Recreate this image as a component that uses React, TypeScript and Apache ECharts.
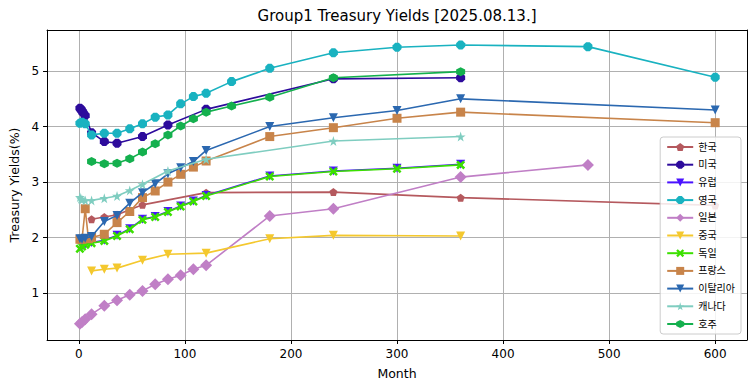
import React, { useEffect, useRef } from 'react';
import * as echarts from 'echarts';

// ---------- data (months, yields %) ----------
const seriesNames = ['한국', '미국', '유럽', '영국', '일본', '중국', '독일', '프랑스', '이탈리아', '캐나다', '호주'];

const krMonths = [12, 24, 36, 60, 120, 240, 360, 600];
const krYields = [2.33, 2.37, 2.41, 2.59, 2.81, 2.82, 2.72, 2.58];

const usMonths = [1, 2, 3, 4, 6, 12, 24, 36, 60, 84, 120, 240, 360];
const usYields = [4.33, 4.31, 4.28, 4.25, 4.20, 3.89, 3.73, 3.70, 3.82, 4.03, 4.31, 4.86, 4.88];

const euMonths = [3, 6, 12, 24, 36, 48, 60, 72, 84, 96, 108, 120, 180, 240, 300, 360];
const euYields = [1.85, 1.88, 1.91, 1.95, 2.04, 2.16, 2.33, 2.38, 2.47, 2.57, 2.66, 2.76, 3.11, 3.20, 3.25, 3.32];

const ukMonths = [1, 3, 6, 12, 24, 36, 48, 60, 72, 84, 96, 108, 120, 144, 180, 240, 300, 360, 480, 600];
const ukYields = [4.06, 4.08, 4.05, 3.85, 3.88, 3.88, 3.96, 4.05, 4.17, 4.21, 4.41, 4.54, 4.60, 4.81, 5.05, 5.33, 5.43, 5.47, 5.44, 4.89];

const jpMonths = [1, 3, 6, 12, 24, 36, 48, 60, 72, 84, 96, 108, 120, 180, 240, 360, 480];
const jpYields = [0.45, 0.48, 0.53, 0.62, 0.77, 0.87, 0.97, 1.04, 1.16, 1.25, 1.32, 1.43, 1.50, 2.39, 2.52, 3.09, 3.31];

const cnMonths = [12, 24, 36, 60, 84, 120, 180, 240, 360];
const cnYields = [1.40, 1.43, 1.45, 1.59, 1.70, 1.72, 1.98, 2.04, 2.03];

const deMonths = [1, 3, 6, 12, 24, 36, 48, 60, 72, 84, 96, 108, 120, 180, 240, 300, 360];
const deYields = [1.80, 1.84, 1.87, 1.90, 1.94, 2.03, 2.15, 2.32, 2.37, 2.46, 2.56, 2.65, 2.75, 3.10, 3.19, 3.24, 3.31];

const frMonths = [1, 3, 6, 9, 12, 24, 36, 48, 60, 72, 84, 96, 108, 120, 180, 240, 300, 360, 600];
const frYields = [1.97, 1.97, 2.52, 1.98, 2.00, 2.06, 2.27, 2.47, 2.72, 2.84, 3.00, 3.14, 3.27, 3.38, 3.82, 3.98, 4.15, 4.26, 4.07];

const itMonths = [1, 3, 6, 12, 24, 36, 48, 60, 72, 84, 96, 108, 120, 180, 240, 300, 360, 600];
const itYields = [1.98, 1.97, 1.99, 2.02, 2.29, 2.40, 2.62, 2.81, 2.97, 3.15, 3.26, 3.37, 3.57, 4.00, 4.16, 4.29, 4.50, 4.30];

const caMonths = [1, 2, 3, 6, 12, 24, 36, 48, 60, 84, 120, 240, 360];
const caYields = [2.73, 2.70, 2.68, 2.67, 2.67, 2.71, 2.75, 2.85, 2.96, 3.20, 3.41, 3.74, 3.82];

const auMonths = [12, 24, 36, 48, 60, 72, 84, 96, 108, 120, 144, 180, 240, 360];
const auYields = [3.37, 3.33, 3.34, 3.42, 3.54, 3.69, 3.85, 4.01, 4.14, 4.26, 4.37, 4.53, 4.88, 4.99];

const xTicks = [0, 100, 200, 300, 400, 500, 600];
const yTicks = [1, 2, 3, 4, 5];

const titleText = 'Group1 Treasury Yields [2025.08.13.]';
const xName = 'Month';
const yName = 'Treasury Yields(%)';

// ---------- marker shapes ----------
const PENTAGON = 'path://M50,0 L100,38 L81,100 L19,100 L0,38 Z';
const TRI_DOWN = 'path://M0,0 L100,0 L50,87 Z';
const HEXAGON = 'path://M50,0 L93,25 L93,75 L50,100 L7,75 L7,25 Z';
const OCTAGON = 'path://M30,0 L70,0 L100,30 L100,70 L70,100 L30,100 L0,70 L0,30 Z';
const XFILLED = 'path://M0,20 L20,0 L50,30 L80,0 L100,20 L70,50 L100,80 L80,100 L50,70 L20,100 L0,80 L30,50 Z';
const STAR = 'path://M50,0 L61,35 L98,35 L68,57 L79,91 L50,70 L21,91 L32,57 L2,35 L39,35 Z';

const FONT = "'DejaVu Sans', 'Noto Sans CJK KR', sans-serif";

export default function App() {
  const ref = useRef<HTMLDivElement>(null);

  useEffect(() => {
    if (!ref.current) return;
    const chart = echarts.init(ref.current, null, { renderer: 'svg' });

    const defs = [
      { m: krMonths, v: krYields, color: '#b5595e', symbol: PENTAGON, size: 8 },
      { m: usMonths, v: usYields, color: '#2d0b9c', symbol: OCTAGON, size: 9 },
      { m: euMonths, v: euYields, color: '#4a12ff', symbol: TRI_DOWN, size: 9 },
      { m: ukMonths, v: ukYields, color: '#19b2c0', symbol: OCTAGON, size: 9 },
      { m: jpMonths, v: jpYields, color: '#c07fc6', symbol: 'diamond', size: 12 },
      { m: cnMonths, v: cnYields, color: '#f4c82e', symbol: TRI_DOWN, size: 9 },
      { m: deMonths, v: deYields, color: '#3ce000', symbol: XFILLED, size: 9 },
      { m: frMonths, v: frYields, color: '#c8844a', symbol: 'rect', size: 9 },
      { m: itMonths, v: itYields, color: '#2b68b0', symbol: TRI_DOWN, size: 9 },
      { m: caMonths, v: caYields, color: '#7fcdc0', symbol: STAR, size: 10 },
      { m: auMonths, v: auYields, color: '#14b04e', symbol: HEXAGON, size: 9 },
    ];

    const series = defs.map((d, i) => ({
      name: seriesNames[i],
      type: 'line',
      xAxisIndex: 0,
      yAxisIndex: 0,
      data: d.m.map((mm, k) => [mm, d.v[k]]),
      symbol: d.symbol,
      symbolSize: d.size,
      showSymbol: true,
      showAllSymbol: true,
      itemStyle: { color: d.color, borderWidth: 0 },
      lineStyle: { color: d.color, width: 1.6 },
      emphasis: { disabled: true },
      z: 2 + i * 0.01,
    }));

    const tickLabelStyle = { fontSize: 12, color: '#000', fontFamily: FONT };

    chart.setOption({
      animation: false,
      backgroundColor: '#ffffff',
      textStyle: { fontFamily: FONT },
      grid: { left: 47, right: 8, top: 30, bottom: 51, containLabel: false },
      graphic: [
        {
          type: 'text',
          x: 397,
          y: 16,
          style: {
            text: titleText,
            fontSize: 15,
            fontFamily: FONT,
            fill: '#000',
            textAlign: 'center',
            textVerticalAlign: 'middle',
          },
          z: 100,
        },
      ],
      xAxis: [
        {
          type: 'value',
          min: -30,
          max: 630,
          position: 'bottom',
          axisLine: { show: true, onZero: false, lineStyle: { color: '#000', width: 1 } },
          axisTick: { show: true, customValues: xTicks, length: 4, lineStyle: { color: '#000' } },
          axisLabel: { customValues: xTicks, margin: 8, ...tickLabelStyle },
          splitLine: { show: true, lineStyle: { color: '#b0b0b0', width: 1 } },
          name: xName,
          nameLocation: 'middle',
          nameGap: 27,
          nameTextStyle: { fontSize: 12.5, color: '#000', fontFamily: FONT },
        },
        {
          type: 'value',
          min: -30,
          max: 630,
          position: 'top',
          axisLine: { show: true, onZero: false, lineStyle: { color: '#000', width: 1 } },
          axisTick: { show: false },
          axisLabel: { show: false },
          splitLine: { show: false },
        },
      ],
      yAxis: [
        {
          type: 'value',
          min: 0.155,
          max: 5.74,
          position: 'left',
          axisLine: { show: true, onZero: false, lineStyle: { color: '#000', width: 1 } },
          axisTick: { show: true, customValues: yTicks, length: 4, lineStyle: { color: '#000' } },
          axisLabel: { customValues: yTicks, margin: 8, ...tickLabelStyle },
          splitLine: { show: true, lineStyle: { color: '#b0b0b0', width: 1 } },
          name: yName,
          nameLocation: 'middle',
          nameGap: 23,
          nameRotate: 90,
          nameTextStyle: { fontSize: 12.5, color: '#000', fontFamily: FONT },
        },
        {
          type: 'value',
          min: 0.155,
          max: 5.74,
          position: 'right',
          axisLine: { show: true, onZero: false, lineStyle: { color: '#000', width: 1 } },
          axisTick: { show: false },
          axisLabel: { show: false },
          splitLine: { show: false },
        },
      ],
      legend: {
        data: seriesNames,
        orient: 'vertical',
        right: 14,
        top: 137,
        itemWidth: 26,
        itemHeight: 10,
        itemGap: 5.7,
        padding: [4, 6, 4, 6],
        backgroundColor: 'rgba(255,255,255,0.85)',
        borderColor: '#cccccc',
        borderWidth: 1,
        borderRadius: 3,
        selectedMode: false,
        textStyle: { fontSize: 10, color: '#000', fontFamily: FONT, lineHeight: 12 },
      },
      series,
    });

    return () => chart.dispose();
  }, []);

  return (
    <div
      ref={ref}
      style={{ position: 'fixed', left: 0, top: 0, width: 755, height: 391, background: '#fff' }}
    />
  );
}
